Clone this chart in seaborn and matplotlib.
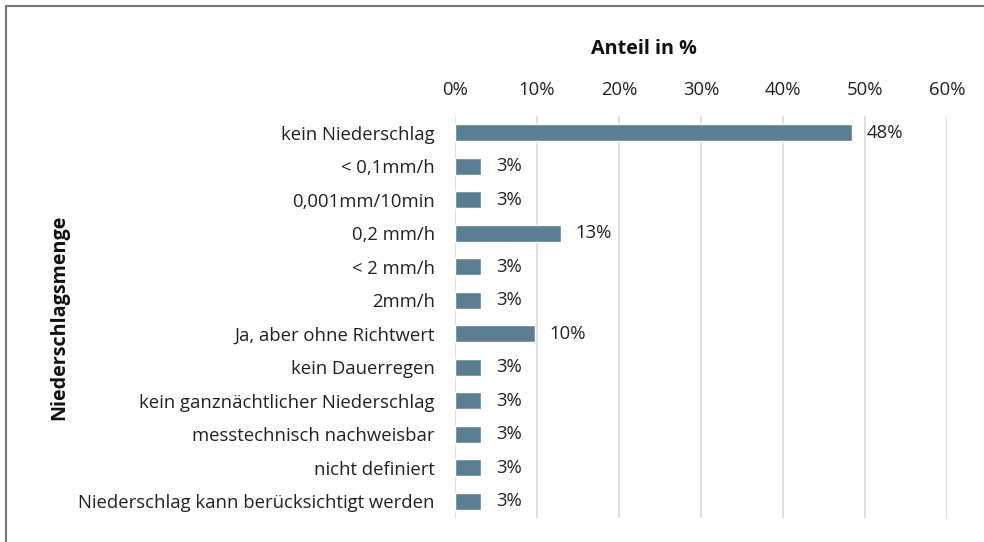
import matplotlib
matplotlib.use("Agg")
import matplotlib.pyplot as plt
import seaborn as sns
import pandas as pd
from matplotlib.ticker import FuncFormatter
from matplotlib.lines import Line2D

# Daten (Anteil in %)
kategorien = [
    "kein Niederschlag",
    "< 0,1mm/h",
    "0,001mm/10min",
    "0,2 mm/h",
    "< 2 mm/h",
    "2mm/h",
    "Ja, aber ohne Richtwert",
    "kein Dauerregen",
    "kein ganznächtlicher Niederschlag",
    "messtechnisch nachweisbar",
    "nicht definiert",
    "Niederschlag kann berücksichtigt werden",
]
anteile = [48.4, 3.2, 3.2, 12.9, 3.2, 3.2, 9.7, 3.2, 3.2, 3.2, 3.2, 3.2]
x_ticks = [0, 10, 20, 30, 40, 50, 60]

df = pd.DataFrame({"Kategorie": kategorien, "Anteil": anteile})

sns.set_theme(style="white")
plt.rcParams["font.family"] = ["Open Sans", "DejaVu Sans"]

fig = plt.figure(figsize=(9.84, 5.42), dpi=100)
ax = fig.add_axes([0.4624, 0.0443, 0.5, 0.7417])

sns.barplot(data=df, x="Anteil", y="Kategorie", color="#5b7e93",
            width=0.5, ax=ax, saturation=1)

ax.set_xlim(0, 60)
ax.set_xticks(x_ticks)
ax.xaxis.set_major_formatter(FuncFormatter(lambda v, p: f"{v:.0f}%"))
ax.xaxis.tick_top()
ax.xaxis.set_label_position("top")
ax.grid(axis="x", color="#d9d9d9", linewidth=1.2)
ax.set_axisbelow(True)
for s in ax.spines.values():
    s.set_visible(False)
ax.tick_params(axis="both", length=0, labelsize=13.3, colors="#222222")
ax.tick_params(axis="x", pad=12)
ax.tick_params(axis="y", pad=14.5)

ax.set_xlabel("Anteil in %", fontsize=14.2, fontweight="bold", color="#111111")
ax.xaxis.set_label_coords(0.384, 1.155)
ax.set_ylabel("Niederschlagsmenge", fontsize=14.2, fontweight="bold", color="#111111")
ax.yaxis.set_label_coords(-0.785, 0.5)

for i, v in enumerate(anteile):
    ax.text(v + 1.8, i, f"{v:.0f}%", va="center", ha="left", fontsize=13.3, color="#222222")

# Rahmen nur oben und links
fig.lines.append(Line2D([6 / 984, 6 / 984, 1], [0, 1 - 6 / 542, 1 - 6 / 542],
                        transform=fig.transFigure, color="#767676", linewidth=1.5))

fig.savefig("out.png", dpi=100)
